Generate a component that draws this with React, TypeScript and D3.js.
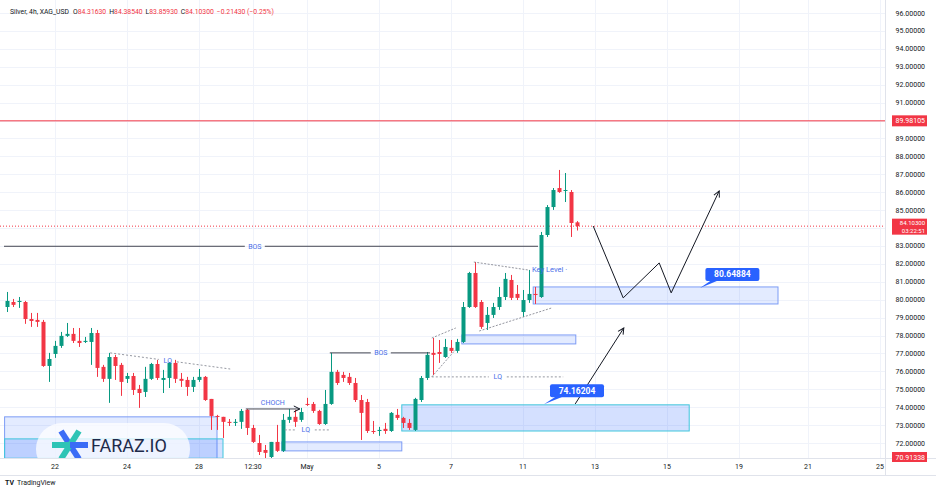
import React from 'react';
import * as d3 from 'd3';

// XAG_USD 4h candles
const opens = [
  79.59, 79.87, 79.87, 79.87, 78.92, 78.87, 78.76, 76.3, 76.97, 77.42,
  77.98, 78.09, 77.7, 77.64, 77.64, 78.14, 76.25, 75.58, 76.8, 76.36,
  75.58, 75.74, 75.02, 74.85, 75.58, 76.41, 75.52, 75.63, 76.47, 75.58,
  75.52, 75.13, 75.52, 75.69, 74.46, 73.51, 73.46, 73.18, 73.12, 73.18,
  73.85, 72.84, 72.0, 71.61, 71.22, 72.06, 71.56, 73.29, 73.46, 73.29,
  74.18, 74.18, 73.79, 73.06, 74.18, 75.97, 75.8, 75.69, 75.35, 74.4,
  74.29, 72.67, 72.67, 72.79, 72.67, 73.57, 73.4, 73.12, 72.73, 74.4,
  75.63, 77.03, 77.08, 76.8, 77.31, 77.14, 77.64, 79.59, 81.49, 79.87,
  78.7, 79.15, 79.59, 80.15, 81.1, 80.32, 79.31, 79.98, 80.32, 80.15,
  83.61, 85.17, 86.23, 86.07, 86.01, 84.3163,
];
const highs = [
  80.43, 80.04, 80.15, 79.93, 79.26, 79.26, 78.87, 77.03, 77.7, 78.2,
  78.7, 78.42, 78.42, 77.92, 78.42, 78.31, 76.36, 77.03, 76.92, 76.47,
  75.91, 75.91, 75.24, 76.25, 76.47, 76.64, 76.08, 76.52, 76.64, 75.91,
  75.69, 75.69, 76.13, 75.74, 74.46, 73.57, 73.46, 73.34, 73.34, 73.9,
  73.9, 73.01, 72.45, 71.89, 72.06, 73.01, 73.62, 73.9, 73.85, 73.96,
  74.52, 74.29, 73.85, 74.96, 77.03, 76.08, 75.97, 75.91, 75.63, 74.68,
  74.46, 73.23, 72.9, 73.12, 73.73, 73.9, 73.46, 73.34, 74.52, 75.74,
  77.08, 77.86, 77.75, 77.81, 77.75, 77.81, 79.87, 81.55, 82.1, 79.98,
  79.59, 79.82, 80.71, 81.49, 81.38, 80.82, 80.54, 81.66, 80.71, 83.78,
  85.28, 86.23, 87.24, 87.07, 86.12, 84.3854,
];
const lows = [
  79.31, 79.59, 79.54, 78.65, 78.48, 78.48, 76.25, 75.41, 76.75, 77.31,
  77.92, 77.58, 77.36, 77.58, 76.36, 75.69, 75.41, 74.24, 75.52, 74.63,
  75.35, 74.68, 73.96, 74.57, 75.52, 75.52, 74.79, 75.07, 75.35, 75.13,
  74.63, 74.85, 75.41, 74.35, 72.73, 72.73, 72.28, 72.95, 72.95, 72.79,
  72.45, 72.0, 71.33, 71.05, 71.11, 71.5, 71.5, 73.12, 72.9, 73.18,
  74.07, 73.68, 73.01, 73.01, 74.13, 75.24, 75.41, 75.24, 74.29, 72.17,
  72.56, 72.51, 72.4, 72.51, 72.62, 73.29, 72.84, 72.73, 72.67, 74.29,
  75.52, 75.8, 76.47, 76.75, 77.03, 77.03, 77.58, 79.54, 79.54, 78.37,
  78.31, 78.98, 79.43, 79.98, 79.98, 79.98, 79.04, 79.82, 79.76, 80.1,
  83.5, 85.01, 85.96, 85.45, 83.5, 83.8593,
];
const closes = [
  79.93, 79.71, 79.93, 78.92, 78.81, 78.76, 76.3, 76.69, 77.42, 77.98,
  78.09, 77.7, 77.58, 77.7, 78.14, 76.19, 75.58, 76.8, 76.3, 75.41,
  75.74, 74.96, 74.79, 75.58, 76.41, 75.63, 75.63, 76.47, 75.58, 75.47,
  75.13, 75.52, 75.69, 74.4, 73.51, 73.46, 73.18, 73.12, 73.18, 73.79,
  72.84, 72.06, 71.5, 71.45, 72.06, 71.56, 73.29, 73.46, 73.18, 73.73,
  74.13, 73.79, 73.06, 74.18, 75.97, 75.35, 75.63, 75.35, 74.4, 73.68,
  72.67, 72.62, 72.73, 72.67, 73.68, 73.4, 73.12, 72.84, 74.46, 75.63,
  76.92, 76.92, 76.97, 77.36, 77.14, 77.64, 79.59, 81.49, 79.59, 78.48,
  79.15, 79.59, 80.15, 81.16, 80.1, 80.1, 79.98, 80.32, 80.26, 83.61,
  85.17, 86.12, 86.01, 86.12, 84.28, 84.103,
];

const priceTicks = d3.range(72, 97);
// ticks hidden behind the red price labels on the axis
const hiddenTickLabels = [84, 90];
const timeTickIdx = [8, 20, 32, 41, 50, 62, 74, 86, 98, 110, 122, 133.5, 145.5];
const timeTickLabels = ['22', '24', '28', '12:30', 'May', '5', '7', '11', '13', '15', '19', '21', '25'];

const resistance = 89.98105;
const lastPrice = 84.103;
const rangeLow = 70.91338;

// annotation drawings (bar index / price)
const bosLines = [
  { from: -0.5, to: 88.5, price: 82.98, at: 41.3 },
  { from: 53.8, to: 70.5, price: 77.03, at: 62.3 },
];
const lqLines = [
  { x1: 17.2, p1: 77.03, x2: 37.2, p2: 76.13, at: 26.8 },
  { x1: 46.3, p1: 72.73, x2: 53.8, p2: 72.73, at: 49.8 },
  { x1: 70.8, p1: 75.69, x2: 92.7, p2: 75.69, at: 81.8 },
];
const choch = { from: 39.8, to: 48.8, price: 73.9 };
const dashedTrend = [
  { x1: 77.8, p1: 82.1, x2: 86.8, p2: 81.66 },
  { x1: 78.7, p1: 78.25, x2: 90.8, p2: 79.54 },
  { x1: 70.8, p1: 77.86, x2: 74.8, p2: 78.42 },
  { x1: 70.8, p1: 75.69, x2: 74.7, p2: 77.19 },
];
const zones = [
  { x1: -0.4, x2: 35, top: 73.46, bottom: 70.6, kind: 'blue' },
  { x1: -0.4, x2: 36, top: 72.23, bottom: 71.15, kind: 'cyan' },
  { x1: 45.8, x2: 65.8, top: 72.06, bottom: 71.56, kind: 'blue' },
  { x1: 65.8, x2: 113.7, top: 74.13, bottom: 72.67, kind: 'cyan' },
  { x1: 75.8, x2: 94.8, top: 78.03, bottom: 77.53, kind: 'blue' },
  { x1: 87.7, x2: 128.5, top: 80.71, bottom: 79.76, kind: 'blue' },
];
const callouts = [
  { text: '80.64884', cx: 120.9, cp: 81.41, tx: 115.5, tp: 80.64884 },
  { text: '74.16204', cx: 95, cp: 74.91, tx: 89.5, tp: 74.16204 },
];
const pathA = [[97.7, 84.11], [102.7, 80.1], [108.7, 82.05], [110.7, 80.38], [118.7, 86.07]];
const pathB = [[94.7, 74.18], [102.8, 78.42]];

const UP = '#089981';
const DOWN = '#f23645';
const LABEL = '#4a6ee8';
const FONT = 'Roboto, "Liberation Sans", sans-serif';

export default function App() {
  const W = 936;
  const H = 492;
  const plotR = 885;
  const plotB = 458;

  const x = d3.scaleLinear().domain([0, 146.5]).range([7, 886]);
  const y = d3.scaleLinear().domain([72, 96]).range([443, 13]);
  const line = d3.line<number[]>().x(d => x(d[0])).y(d => y(d[1]));

  const candles = opens.map((o, i) => ({ i, o, h: highs[i], l: lows[i], c: closes[i] }));

  return (
    <div style={{ position: 'absolute', left: 0, top: 0 }}>
      <svg width={W} height={H} style={{ display: 'block', fontFamily: FONT }}>
        <defs>
          <clipPath id="plot">
            <rect x={0} y={0} width={plotR} height={plotB} />
          </clipPath>
          <marker id="arr" viewBox="0 0 8 8" refX={7} refY={4} markerWidth={8} markerHeight={8} orient="auto" markerUnits="userSpaceOnUse">
            <path d="M1,1 L7,4 L1,7" fill="none" stroke="#131722" strokeWidth={1} />
          </marker>
        </defs>
        <rect width={W} height={H} fill="#fff" />

        {/* grid */}
        <g stroke="#f0f3fa" strokeWidth={1}>
          {priceTicks.map(p => (
            <line key={p} x1={0} x2={plotR} y1={Math.round(y(p)) + 0.5} y2={Math.round(y(p)) + 0.5} />
          ))}
          {timeTickIdx.map(t => (
            <line key={t} x1={Math.round(x(t)) + 0.5} x2={Math.round(x(t)) + 0.5} y1={0} y2={plotB} />
          ))}
        </g>

        <g clipPath="url(#plot)">
          {/* zones */}
          {zones.map((z, k) => (
            <rect
              key={k}
              x={x(z.x1)}
              y={y(z.top)}
              width={x(z.x2) - x(z.x1)}
              height={y(z.bottom) - y(z.top)}
              fill={z.kind === 'cyan' ? 'rgba(41,98,255,0.2)' : 'rgba(41,98,255,0.13)'}
              stroke={z.kind === 'cyan' ? '#3fc6dc' : '#7d9cf5'}
              strokeWidth={1}
            />
          ))}

          {/* watermark */}
          <g>
            <rect x={36} y={423} width={154} height={52} rx={26} fill="#fff" fillOpacity={0.75} />
            <g strokeWidth={6} strokeLinecap="butt">
              <line x1={61} y1={431} x2={79} y2={459} stroke="#3b6cf6" />
              <line x1={79} y1={431} x2={61} y2={459} stroke="#2ec4b6" />
              <line x1={52} y1={445} x2={70} y2={445} stroke="#2ec4b6" />
              <line x1={70} y1={445} x2={88} y2={445} stroke="#3b6cf6" />
            </g>
            <text x={91} y={452} fontSize={18} fill="#1e2a4a" fontFamily={FONT}>FARAZ.IO</text>
          </g>

          {/* price lines */}
          <line x1={0} x2={plotR} y1={y(resistance)} y2={y(resistance)} stroke={DOWN} strokeWidth={1} />
          <line x1={0} x2={plotR} y1={y(lastPrice)} y2={y(lastPrice)} stroke={DOWN} strokeWidth={1} strokeDasharray="1 2" />

          {/* candles */}
          {candles.map(d => {
            const col = d.c >= d.o ? UP : DOWN;
            const cx = Math.round(x(d.i)) + 0.5;
            const top = y(Math.max(d.o, d.c));
            const bot = y(Math.min(d.o, d.c));
            return (
              <g key={d.i}>
                <line x1={cx} x2={cx} y1={y(d.h)} y2={y(d.l)} stroke={col} strokeWidth={1} />
                <rect x={cx - 2} y={top} width={4} height={Math.max(1, bot - top)} fill={col} />
              </g>
            );
          })}

          {/* BOS */}
          {bosLines.map((b, k) => (
            <g key={k}>
              <line x1={x(b.from)} x2={x(b.at) - 10} y1={y(b.price)} y2={y(b.price)} stroke="#434651" />
              <line x1={x(b.at) + 10} x2={x(b.to)} y1={y(b.price)} y2={y(b.price)} stroke="#434651" />
              <text x={x(b.at)} y={y(b.price) + 2.5} fontSize={7} fill={LABEL} textAnchor="middle">BOS</text>
            </g>
          ))}

          {/* CHOCH */}
          <line x1={x(choch.from)} x2={x(choch.to)} y1={y(choch.price)} y2={y(choch.price)} stroke="#434651" markerEnd="url(#arr)" />
          <text x={x((choch.from + choch.to) / 2)} y={y(choch.price) - 4} fontSize={7} fill={LABEL} textAnchor="middle">CHOCH</text>

          {/* LQ */}
          {lqLines.map((q, k) => {
            const xm = x(q.at);
            const t = (q.at - q.x1) / (q.x2 - q.x1);
            const pm = q.p1 + (q.p2 - q.p1) * t;
            const slope = (y(q.p2) - y(q.p1)) / (x(q.x2) - x(q.x1));
            return (
              <g key={k}>
                <line x1={x(q.x1)} y1={y(q.p1)} x2={xm - 9} y2={y(pm) - slope * 9} stroke="#9598a1" strokeDasharray="2 2" />
                <line x1={xm + 9} y1={y(pm) + slope * 9} x2={x(q.x2)} y2={y(q.p2)} stroke="#9598a1" strokeDasharray="2 2" />
                <text x={xm} y={y(pm) + 2.5} fontSize={7} fill={LABEL} textAnchor="middle">LQ</text>
              </g>
            );
          })}

          {/* trend lines */}
          {dashedTrend.map((l, k) => (
            <line key={k} x1={x(l.x1)} y1={y(l.p1)} x2={x(l.x2)} y2={y(l.p2)} stroke="#787b86" strokeWidth={0.8} strokeDasharray="2 1.5" />
          ))}
          <text x={x(87.5)} y={y(81.66) + 2.5} fontSize={7.5} fill={LABEL}>Key Level ·</text>

          {/* projected paths */}
          <path d={line(pathA) ?? ''} fill="none" stroke="#131722" strokeWidth={1} markerEnd="url(#arr)" />
          <path d={line(pathB) ?? ''} fill="none" stroke="#131722" strokeWidth={1} markerEnd="url(#arr)" />

          {/* callouts */}
          {callouts.map((c, k) => {
            const cx = x(c.cx);
            const cy = y(c.cp);
            return (
              <g key={k}>
                <path d={`M${cx - 20},${cy + 5} L${x(c.tx)},${y(c.tp)} L${cx - 12},${cy + 5} Z`} fill="#2962ff" />
                <rect x={cx - 27} y={cy - 6.5} width={54} height={13} rx={2} fill="#2962ff" />
                <text x={cx} y={cy + 3} fontSize={8.5} fontWeight={700} fill="#fff" textAnchor="middle">{c.text}</text>
              </g>
            );
          })}
        </g>

        {/* borders */}
        <line x1={plotR + 0.5} x2={plotR + 0.5} y1={0} y2={475} stroke="#e0e3eb" />
        <line x1={0} x2={W} y1={plotB + 0.5} y2={plotB + 0.5} stroke="#e0e3eb" />
        <line x1={0} x2={W} y1={475.5} y2={475.5} stroke="#e0e3eb" />

        {/* price axis */}
        {priceTicks.filter(p => !hiddenTickLabels.includes(p)).map(p => (
          <text key={p} x={925} y={y(p) + 2.5} fontSize={7} fill="#131722" textAnchor="end">{p.toFixed(5)}</text>
        ))}
        <rect x={892} y={y(resistance) - 5.5} width={35} height={11} fill={DOWN} />
        <text x={925} y={y(resistance) + 2.5} fontSize={7} fill="#fff" textAnchor="end">{resistance.toFixed(5)}</text>
        <rect x={892} y={y(lastPrice) - 7.5} width={35} height={16} fill={DOWN} />
        <text x={925} y={y(lastPrice) - 1.5} fontSize={6} fill="#fff" textAnchor="end">{lastPrice.toFixed(5)}</text>
        <text x={925} y={y(lastPrice) + 6.5} fontSize={6} fill="#fff" textAnchor="end">03:22:51</text>
        <rect x={892} y={452} width={35} height={10} fill={DOWN} />
        <text x={925} y={459.5} fontSize={7} fill="#fff" textAnchor="end">{rangeLow.toFixed(5)}</text>

        {/* time axis */}
        {timeTickIdx.map((t, k) => (
          <text key={t} x={x(t)} y={469} fontSize={7} fill="#131722" textAnchor="middle">{timeTickLabels[k]}</text>
        ))}

        {/* header */}
        <text x={10} y={14} fontSize={6.8} fill="#131722">
          <tspan>Silver, 4h, XAG_USD</tspan>
          <tspan dx={4}>O</tspan><tspan fill={DOWN}>84.31630</tspan>
          <tspan dx={3}>H</tspan><tspan fill={DOWN}>84.38540</tspan>
          <tspan dx={3}>L</tspan><tspan fill={DOWN}>83.85930</tspan>
          <tspan dx={3}>C</tspan><tspan fill={DOWN}>84.10300</tspan>
          <tspan dx={3} fill={DOWN}>−0.21430 (−0.25%)</tspan>
        </text>

        {/* footer */}
        <text x={5} y={485} fontSize={7} fontWeight={700} fill="#131722">TV</text>
        <text x={17} y={485} fontSize={7} fill="#131722">TradingView</text>
      </svg>
    </div>
  );
}
